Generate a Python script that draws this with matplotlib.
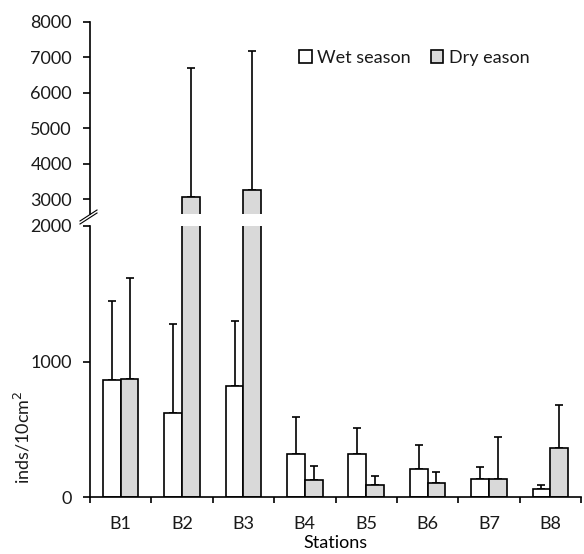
import numpy as np
import matplotlib
matplotlib.use("Agg")
import matplotlib.pyplot as plt
from matplotlib.lines import Line2D

plt.rcParams['font.family'] = ['Lato', 'DejaVu Sans']
plt.rcParams['font.size'] = 13
plt.rcParams['text.color'] = '#1a1a1a'
plt.rcParams['xtick.labelcolor'] = '#1a1a1a'
plt.rcParams['ytick.labelcolor'] = '#1a1a1a'

# data
stations = ['B1', 'B2', 'B3', 'B4', 'B5', 'B6', 'B7', 'B8']
wet = [863, 617, 819, 317, 317, 204, 135, 59]
wet_err = [583, 660, 482, 271, 192, 182, 86, 30]
dry = [871, 3048, 3254, 123, 89, 101, 130, 359]
dry_err = [747, 3652, 3936, 106, 68, 84, 310, 320]
legend_labels = ['Wet season', 'Dry eason']

W, H = 584, 554
fig = plt.figure(figsize=(W / 100, H / 100), dpi=100)

def fx(px):
    return px / W

def fy(py):
    return 1 - py / H

ax_top = fig.add_axes([fx(90), fy(214), fx(581) - fx(90), fy(22) - fy(214)])
ax_bot = fig.add_axes([fx(90), fy(497), fx(581) - fx(90), fy(226) - fy(497)])

x = np.arange(len(stations))
bw = 0.29
gray = '#d9d9d9'
lw = 1.2
fs = 13

for ax in (ax_top, ax_bot):
    ax.bar(x - bw / 2, wet, bw, color='white', edgecolor='black', linewidth=lw, zorder=2)
    ax.bar(x + bw / 2, dry, bw, color=gray, edgecolor='black', linewidth=lw, zorder=2)
    ax.errorbar(x - bw / 2, wet, yerr=[np.zeros(len(wet)), wet_err], fmt='none',
                ecolor='black', elinewidth=lw, capsize=2.6, capthick=lw, zorder=1)
    ax.errorbar(x + bw / 2, dry, yerr=[np.zeros(len(dry)), dry_err], fmt='none',
                ecolor='black', elinewidth=lw, capsize=2.6, capthick=lw, zorder=1)
    ax.set_xlim(-0.5, len(stations) - 0.5)
    ax.spines['top'].set_visible(False)
    ax.spines['right'].set_visible(False)
    ax.spines['left'].set_linewidth(lw)
    ax.spines['bottom'].set_linewidth(lw)
    ax.tick_params(axis='y', direction='out', length=5, width=lw, pad=8, labelsize=fs)

ax_top.set_ylim(2580, 8000)
ax_top.set_yticks([3000, 4000, 5000, 6000, 7000, 8000])
ax_top.spines['bottom'].set_visible(False)
ax_top.set_xticks([])

ax_bot.set_ylim(0, 2000)
ax_bot.set_yticks([0, 1000, 2000])
ax_bot.set_xticks(x)
ax_bot.set_xticklabels(stations)
ax_bot.set_xticks(np.arange(-0.5, len(stations)), minor=True)
ax_bot.tick_params(axis='x', which='major', length=0, pad=14, labelsize=fs)
ax_bot.tick_params(axis='x', which='minor', direction='out', length=4, width=lw)
ax_bot.set_xlabel('Stations', fontsize=fs, labelpad=2)

fig.text(fx(22), fy(437), 'inds/10cm$^2$', rotation=90, ha='center', va='center', fontsize=fs)

# axis break marks
for off in (0, 3):
    fig.add_artist(Line2D([fx(80), fx(97)], [fy(224 - off), fy(213 - off)],
                          color='black', linewidth=0.8))

handles = [plt.Rectangle((0, 0), 1, 1, facecolor='white', edgecolor='black', linewidth=lw),
           plt.Rectangle((0, 0), 1, 1, facecolor=gray, edgecolor='black', linewidth=lw)]
fig.legend(handles, legend_labels, loc='center left', bbox_to_anchor=(fx(299), fy(58)),
           ncol=2, frameon=False, handlelength=0.7, handleheight=0.7,
           handletextpad=0.3, columnspacing=1.1, borderpad=0, borderaxespad=0, fontsize=fs)

fig.savefig('out.png', dpi=100)
